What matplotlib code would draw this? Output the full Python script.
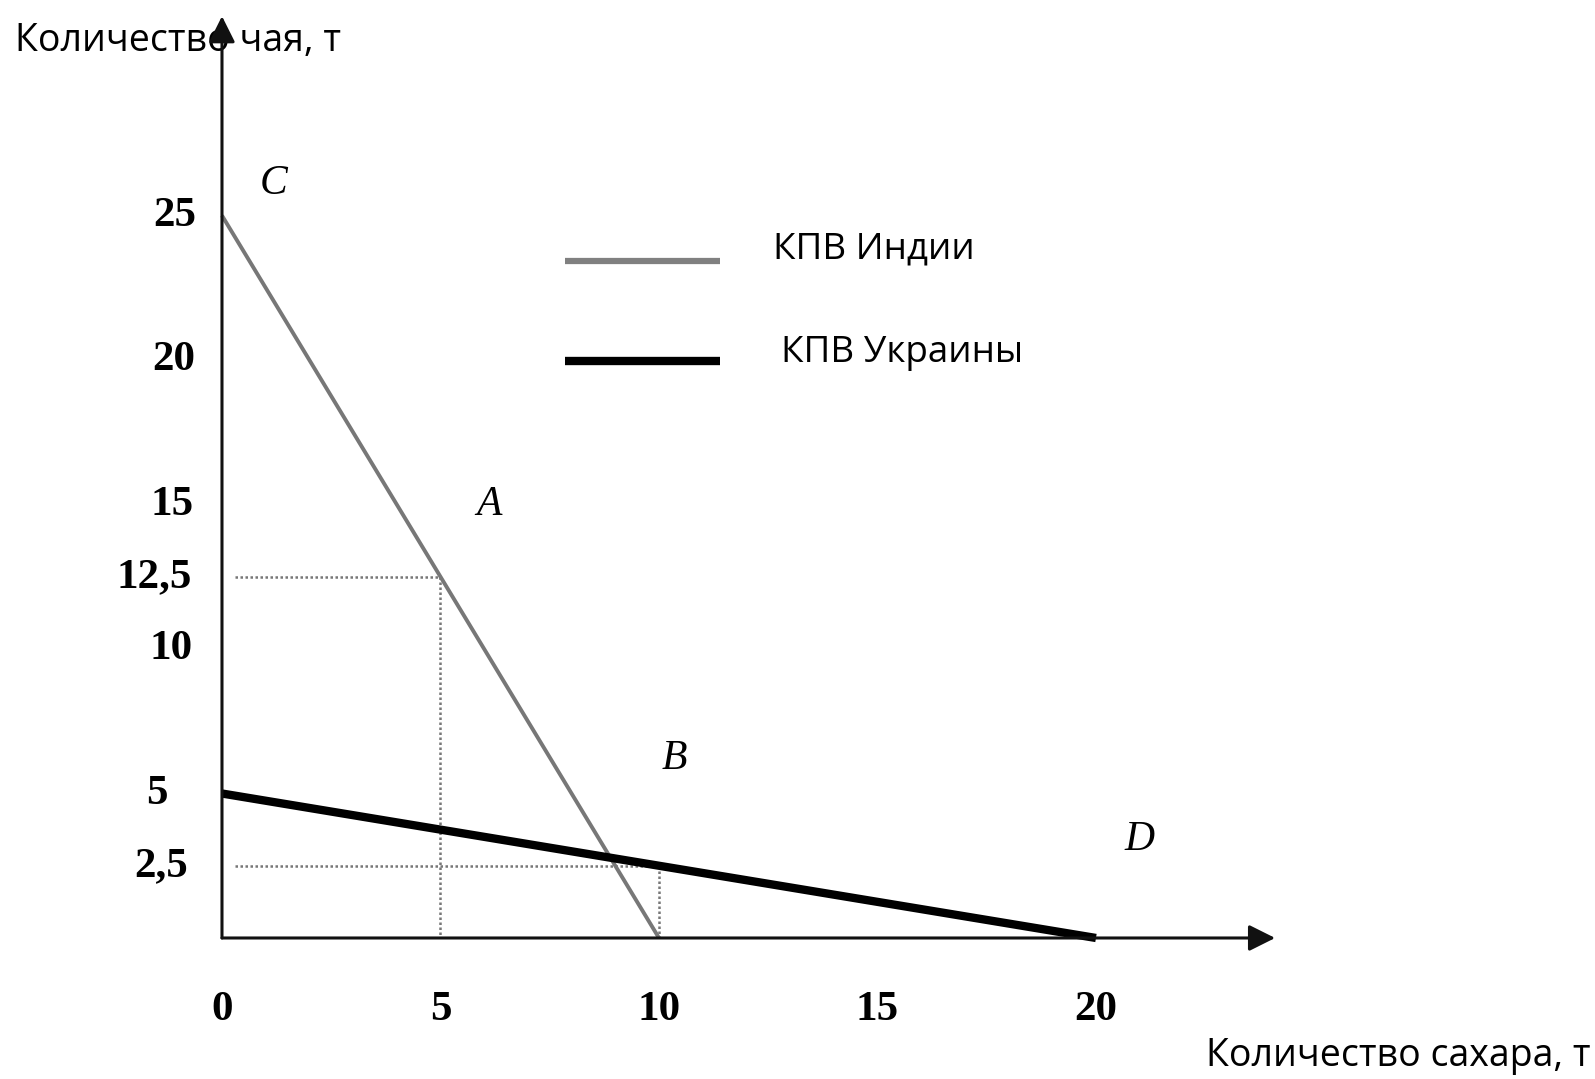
import matplotlib.pyplot as plt

#### data ######################################################################

india_x = [0, 10]
india_y = [25, 0]
ukraine_x = [0, 20]
ukraine_y = [5, 0]

point_a = (5, 12.5)
point_b = (10, 2.5)

x_ticks = [0, 5, 10, 15, 20]
x_tick_labels = ['0', '5', '10', '15', '20']
y_ticks = [25, 20, 15, 12.5, 10, 5, 2.5]
y_tick_labels = ['25', '20', '15', '12,5', '10', '5', '2,5']

point_names = ['C', 'A', 'B', 'D']

legend_names = ['КПВ Индии', 'КПВ Украины']
y_title = 'Количество чая, т'
x_title = 'Количество сахара, т'

#### layout ####################################################################

point_label_xy = [(1.17, 26.1), (6.1, 15.0), (10.35, 6.2), (21.0, 3.4)]
y_label_right = [-0.58, -0.62, -0.66, -0.68, -0.68, -1.25, -0.78]

serif = 'Liberation Serif'
sans = 'Open Sans'

#### plot ######################################################################

fig = plt.figure(figsize=(15.95, 10.79), dpi=100)
ax = fig.add_axes([0, 0, 1, 1])
ax.set_xlim(-5.08, 31.42)
ax.set_ylim(-4.88, 32.46)
ax.axis('off')

# axes with arrow heads
arrow = dict(arrowstyle='-|>', lw=2.2, color='#111111', mutation_scale=40,
             shrinkA=0, shrinkB=0)
ax.annotate('', xy=(24.1, 0), xytext=(0, 0), arrowprops=arrow, zorder=5)
ax.annotate('', xy=(0, 31.9), xytext=(0, 0), arrowprops=arrow, zorder=5)

# dotted guides
guide = dict(color='#777777', lw=1.8, ls=(0, (1, 1)), zorder=1)
ax.plot([0.3, point_a[0]], [point_a[1], point_a[1]], **guide)
ax.plot([point_a[0], point_a[0]], [point_a[1], 0], **guide)
ax.plot([0.3, point_b[0]], [point_b[1], point_b[1]], **guide)
ax.plot([point_b[0], point_b[0]], [point_b[1], 0], **guide)

# production possibility frontiers
ax.plot(india_x, india_y, color='#777777', lw=2.8, solid_capstyle='butt', zorder=2)
ax.plot(ukraine_x, ukraine_y, color='black', lw=6, solid_capstyle='butt', zorder=3)

# tick labels
for v, s in zip(x_ticks, x_tick_labels):
    ax.text(v, -2.5, s, ha='center', va='center', family=serif,
            weight='bold', fontsize=31)
for v, s, xr in zip(y_ticks, y_tick_labels, y_label_right):
    ax.text(xr, v, s, ha='right', va='center', family=serif,
            weight='bold', fontsize=31)

# point names
for s, (px, py) in zip(point_names, point_label_xy):
    ax.text(px, py, s, ha='center', va='center', family=serif,
            style='italic', fontsize=30)

# legend drawn by hand
ax.plot([7.85, 11.4], [23.43, 23.43], color='#808080', lw=4.5, solid_capstyle='butt')
ax.plot([7.85, 11.4], [19.97, 19.97], color='black', lw=6, solid_capstyle='butt')
ax.text(12.61, 23.84, legend_names[0], va='center', family=sans, fontsize=26.5)
ax.text(12.79, 20.24, legend_names[1], va='center', family=sans, fontsize=26.5)

# axis titles
ax.text(15 / 1595, 1 - 41 / 1079, y_title, transform=ax.transAxes,
        ha='left', va='center', family=sans, fontsize=27, zorder=1)
ax.text(1590 / 1595, 1 - 1056 / 1079, x_title, transform=ax.transAxes,
        ha='right', va='center', family=sans, fontsize=27)

fig.savefig('out.png', dpi=100, facecolor='white')
plt.close()
